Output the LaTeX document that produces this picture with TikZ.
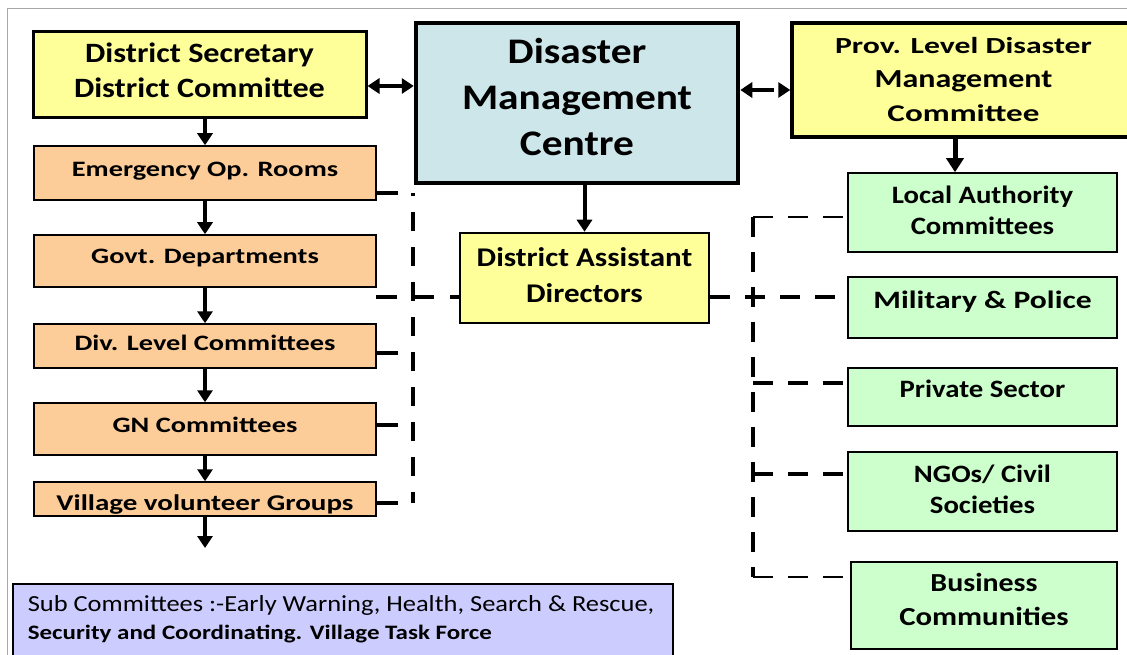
\documentclass[tikz,border=0pt]{standalone}
\usepackage{fontspec}
\usepackage{graphicx}
\setmainfont{Carlito}[FakeStretch=1.15]
\newfontfamily\peachfont{Carlito}[FakeStretch=1.29]
\usetikzlibrary{arrows.meta}
\definecolor{yel}{HTML}{FFFF99}
\definecolor{dmcblue}{HTML}{CDE6EA}
\definecolor{peach}{HTML}{FCCC99}
\definecolor{grn}{HTML}{CCFFCC}
\definecolor{lav}{HTML}{CCCCFF}
\definecolor{frame}{HTML}{A8A8A8}
\newcommand{\dropby}[1]{\rule[-#1]{0pt}{#1}}
\begin{document}
\begin{tikzpicture}[x=1pt,y=-1pt,
  >={Triangle[width=15pt,length=12pt]},
  box/.style={draw=black, inner sep=0pt, align=center, font=\bfseries},
  ybox/.style={box, fill=yel},
  pbox/.style={box, fill=peach, line width=1.5pt, minimum width=342pt, font=\peachfont\bfseries\fontsize{22}{26}\selectfont},
  gbox/.style={box, fill=grn, line width=1.5pt, minimum width=269pt, font=\bfseries\fontsize{25}{31}\selectfont},
  arr/.style={line width=4pt, ->},
  dl/.style={line width=4pt, dash pattern=on 20pt off 15pt},
  tdl/.style={line width=2pt, dash pattern=on 20pt off 15pt}]
\useasboundingbox (0,0) rectangle (1127,655);
\fill[white] (0,0) rectangle (1127,655);
\draw[frame, line width=1pt] (7,655) -- (7,9) -- (1127,9);

% top row
\node[ybox, line width=3pt, minimum width=333pt, minimum height=86pt,
  font=\bfseries\fontsize{28}{35}\selectfont] (ds) at (199.5,75) {District Secretary\\District Committee\dropby{10pt}};
\node[box, fill=dmcblue, line width=4.5pt, minimum width=322pt, minimum height=160pt,
  font=\bfseries\fontsize{36}{46}\selectfont] (dmc) at (577,103) {Disaster\\Management\\Centre\dropby{12pt}};
\node[ybox, line width=3.5pt, minimum width=343pt, minimum height=114pt,
  font=\bfseries\fontsize{26}{34}\selectfont] (prov) at (963.5,80)
  {{\fontsize{23}{34}\selectfont\scalebox{1.2}[1]{Prov. Level Disaster}}\\\scalebox{1.07}[1]{Management}\\{\fontsize{24}{34}\selectfont\scalebox{1.2}[1]{Committee}}};

% left column
\node[pbox, text height=31pt, text depth=23pt] (eor) at (205,173) {Emergency Op. Rooms};
\node[pbox, text height=28pt, text depth=24pt] (gov) at (205,261) {Govt. Departments};
\node[pbox, text height=26pt, text depth=18pt] (div) at (205,346) {Div. Level Committees};
\node[pbox, text height=29pt, text depth=23pt] (gn) at (205,429) {GN Committees};
\node[pbox, text height=28pt, text depth=6pt, font=\peachfont\bfseries\fontsize{22.5}{26}\selectfont] (vil) at (205,499) {Village volunteer Groups};
\coordinate (vend) at (205,548);

% centre
\node[ybox, line width=2.5pt, minimum width=249pt, minimum height=90pt,
  font=\bfseries\fontsize{27}{36}\selectfont] (dad) at (584.5,278) {District Assistant\\Directors\dropby{6pt}};

% right column
\node[gbox, minimum height=79pt] (la) at (982.5,212.5) {Local Authority\\Committees\dropby{4pt}};
\node[gbox, text height=31pt, text depth=30pt] (mil) at (982.5,307.5) {\scalebox{1.1}[1]{Military \& Police}};
\node[gbox, text height=29pt, text depth=29pt] (priv) at (982.5,397) {Private Sector};
\node[gbox, minimum height=79pt] (ngo) at (982.5,491.5) {NGOs/ Civil\\Societies\dropby{5pt}};
\node[gbox, minimum width=266pt, minimum height=87pt,
  font=\bfseries\fontsize{26}{34}\selectfont] (bus) at (984,605.5) {Business\\\scalebox{1.03}[1]{Communities}\dropby{12pt}};

% bottom note
\node[box, fill=lav, line width=1.5pt, anchor=north west, inner xsep=15pt, inner ysep=12pt,
  align=left, font=\normalfont] (sub) at (12,583)
  {\begin{minipage}[t][110pt][t]{630pt}
   {\fontsize{23}{25}\selectfont Sub Committees :-Early Warning, Health, Search \& Rescue,\par}
   {\bfseries\fontsize{20.5}{28}\selectfont\scalebox{1.06}[1]{Security and Coordinating. Village Task Force}\par}
   \end{minipage}};

% solid arrows
\draw[arr] (eor.north |- ds.south) -- (eor.north);
\draw[arr] (eor.south) -- (gov.north);
\draw[arr] (gov.south) -- (div.north);
\draw[arr] (div.south) -- (gn.north);
\draw[arr] (gn.south) -- (vil.north);
\draw[arr] (vil.south) -- (vend);
\draw[line width=3.5pt, <->] (ds.east |- 0,86) -- (dmc.west |- 0,86);
\draw[arr] (dad.north |- dmc.south) -- (dad.north);
\draw[line width=3.5pt, dash pattern=on 22pt off 20pt, <->]
  (dmc.east |- 0,90) -- (prov.west |- 0,90);
\draw[line width=5pt, -{Triangle[width=17pt,length=14pt]}] (prov.south -| 955,0) -- (la.north -| 955,0);

% left dashed connections
\coordinate (le1) at (413,193);
\coordinate (le2) at (413,353);
\coordinate (le3) at (413,425);
\coordinate (le4) at (413,503);
\coordinate (hstart) at (376,297);
\draw[dl, dash pattern=on 19pt off 16pt, dash phase=16pt] (le1) -- (le4);
\draw[dl, dash pattern=on 21pt off 30pt] (eor.east |- le1) -- (le1);
\draw[dl, dash pattern=on 21pt off 30pt] (div.east |- le2) -- (le2);
\draw[dl, dash pattern=on 21pt off 30pt] (gn.east |- le3) -- (le3);
\draw[dl, dash pattern=on 21pt off 30pt] (vil.east |- le4) -- (le4);
\draw[dl, dash pattern=on 21pt off 16pt] (hstart) -- (dad.west |- hstart);

% right dashed connections
\coordinate (re1) at (753,217);
\coordinate (re2) at (753,297);
\coordinate (re3) at (753,383);
\coordinate (re4) at (753,474);
\coordinate (re5) at (753,577);
\draw[dl] (re1) -- (re5);
\draw[tdl] (re1) -- (la.west |- re1);
\draw[dl] (dad.east |- re2) -- (mil.west |- re2);
\draw[dl] (re3) -- (priv.west |- re3);
\draw[dl] (re4) -- (ngo.west |- re4);
\draw[tdl] (re5) -- (bus.west |- re5);
\end{tikzpicture}
\end{document}
